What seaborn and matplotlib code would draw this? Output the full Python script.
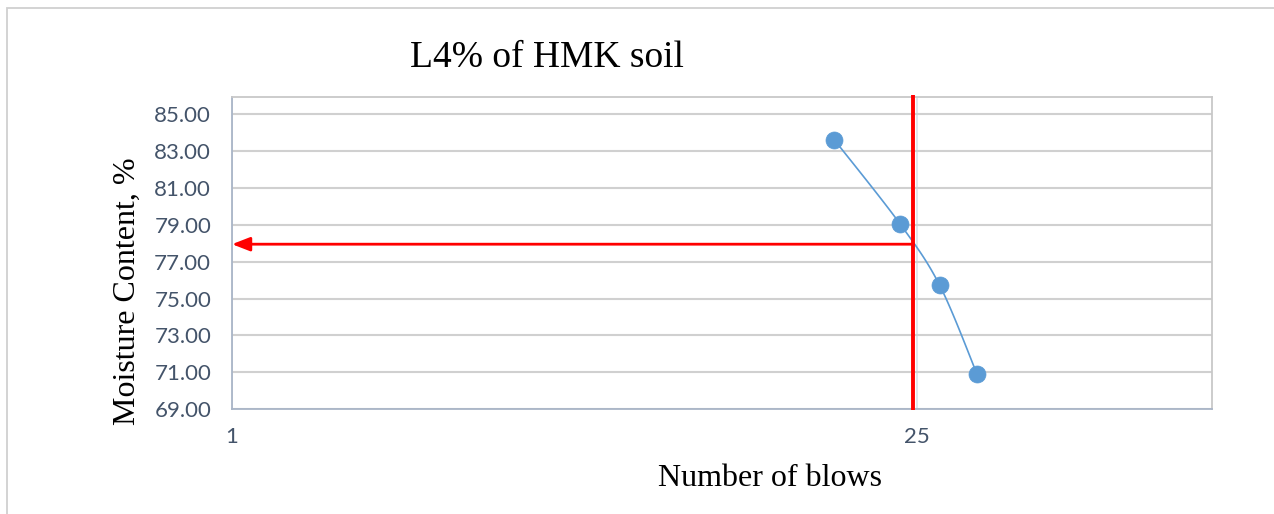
import numpy as np
import pandas as pd
import matplotlib
matplotlib.use("Agg")
import matplotlib.pyplot as plt
from matplotlib.patches import Rectangle
import seaborn as sns

# Liquid limit test readings
blows = [22.1, 24.4, 25.8, 27.1]
moisture = [83.63, 79.07, 75.71, 70.92]

target_blows = 24.88
liquid_limit = 77.95

y_ticks = [69, 71, 73, 75, 77, 79, 81, 83, 85]
x_ticks = [1, 25]

title_text = "L4% of HMK soil"
x_label = "Number of blows"
y_label = "Moisture Content, %"


def smooth_curve(x, y, n=40):
    """Cardinal (Catmull-Rom style) smoothing through the given points."""
    x = np.asarray(x, float)
    y = np.asarray(y, float)
    px = np.concatenate([[x[0]], x, [x[-1]]])
    py = np.concatenate([[y[0]], y, [y[-1]]])
    xs, ys = [], []
    for i in range(1, len(px) - 2):
        p0 = np.array([px[i - 1], py[i - 1]])
        p1 = np.array([px[i], py[i]])
        p2 = np.array([px[i + 1], py[i + 1]])
        p3 = np.array([px[i + 2], py[i + 2]])
        c1 = p1 + (p2 - p0) / 6.0
        c2 = p2 - (p3 - p1) / 6.0
        t = np.linspace(0, 1, n)[:, None]
        pts = ((1 - t) ** 3) * p1 + 3 * ((1 - t) ** 2) * t * c1 + 3 * (1 - t) * t ** 2 * c2 + t ** 3 * p2
        xs.extend(pts[:, 0])
        ys.extend(pts[:, 1])
    return np.array(xs), np.array(ys)


sns.set_theme(style="white")
plt.rcParams["font.family"] = ["DejaVu Sans"]

fig = plt.figure(figsize=(12.74, 5.14), dpi=100)
ax = fig.add_axes([232 / 1274, 1 - 409 / 514, 980 / 1274, 312.3 / 514])

# chart-area frame
fig.patches.append(Rectangle((7 / 1274, -0.05), 1.2, (514 - 8) / 514 + 0.05,
                             transform=fig.transFigure, fill=False,
                             edgecolor="#D0D0D0", linewidth=1.3, zorder=0))

blue = "#5B9BD5"
sx, sy = smooth_curve(blows, moisture)
curve = pd.DataFrame({"blows": sx, "moisture": sy})
pts = pd.DataFrame({"blows": blows, "moisture": moisture})
sns.lineplot(data=curve, x="blows", y="moisture", sort=False, estimator=None,
             color=blue, linewidth=1.2, ax=ax, zorder=3)
sns.scatterplot(data=pts, x="blows", y="moisture", color=blue, s=150,
                edgecolor=blue, linewidth=0.5, ax=ax, zorder=4)

ax.set_xlim(1, 35.34)
ax.set_ylim(69, 85.96)
ax.set_xticks(x_ticks)
ax.set_yticks(y_ticks)
ax.set_xticklabels([str(v) for v in x_ticks])
ax.set_yticklabels([f"{v:.2f}" for v in y_ticks])

ax.grid(True, axis="y", color="#D0D0D0", linewidth=1.5, zorder=0)
ax.grid(True, axis="x", color="#DDE2EA", linewidth=1.2, zorder=0)
ax.set_axisbelow(True)

for side in ["top", "right"]:
    ax.spines[side].set_color("#C8C8C8")
    ax.spines[side].set_linewidth(1.3)
for side in ["left", "bottom"]:
    ax.spines[side].set_color("#A9B5C7")
    ax.spines[side].set_linewidth(1.3)

tick_color = "#44546A"
ax.tick_params(axis="both", length=0, labelcolor=tick_color, labelsize=16)
ax.tick_params(axis="y", pad=15)
ax.tick_params(axis="x", pad=13)
for lab in ax.get_xticklabels() + ax.get_yticklabels():
    lab.set_fontfamily("Lato")

serif = "Liberation Serif"
ax.set_xlabel(x_label, fontsize=23, fontfamily=serif, color="black")
ax.set_ylabel(y_label, fontsize=23, fontfamily=serif, color="black")
ax.xaxis.set_label_coords(0.549, -0.221)
ax.yaxis.set_label_coords(-0.107, 0.378)
ax.xaxis.label.set_verticalalignment("center")
ax.yaxis.label.set_verticalalignment("center")

ax.text(0.321, 1.124, title_text, transform=ax.transAxes, ha="center",
        va="center", fontsize=27, fontfamily=serif, color="black")

# liquid limit construction lines
ax.plot([target_blows, target_blows], [68.95, 86.05], color="#FF0000",
        linewidth=2.8, clip_on=False, zorder=5, solid_capstyle="butt")
ax.annotate("", xy=(1, liquid_limit), xytext=(target_blows, liquid_limit),
            arrowprops=dict(arrowstyle="-|>,head_length=0.9,head_width=0.35",
                            color="#FF0000", linewidth=2.0,
                            shrinkA=0, shrinkB=0),
            zorder=5)

fig.savefig("out.png", dpi=100, facecolor="white")
